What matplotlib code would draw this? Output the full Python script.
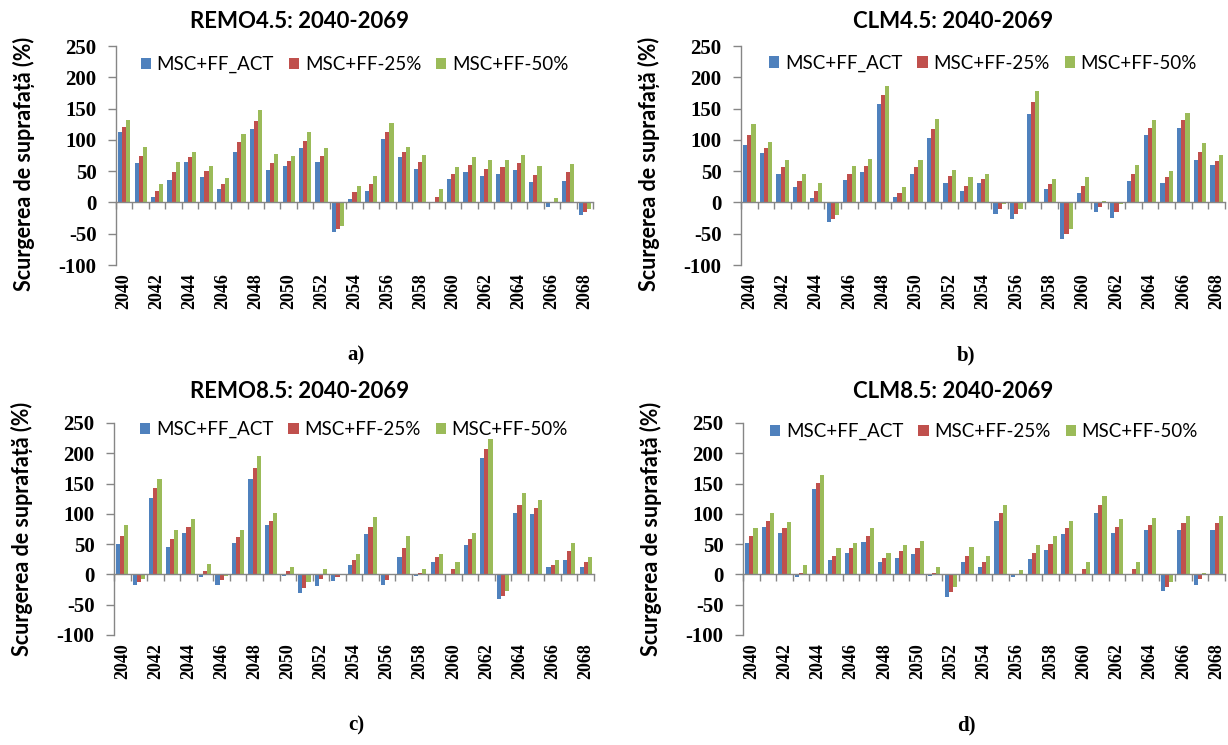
import matplotlib

matplotlib.use("Agg")
import matplotlib.pyplot as plt
import numpy as np

# fonts: Calibri-like sans for titles/legend, Times-like serif for ticks
SANS = ["Lato", "DejaVu Sans"]
SERIF = ["Liberation Serif", "DejaVu Serif"]

years = list(range(2040, 2069))
series_names = ["MSC+FF_ACT", "MSC+FF-25%", "MSC+FF-50%"]
series_colors = ["#4F81BD", "#C0504D", "#9BBB59"]
y_ticks = [-100, -50, 0, 50, 100, 150, 200, 250]

# REMO 4.5
remo45_act = [112, 63, 8, 36, 65, 41, 22, 81, 118, 52, 59, 87, 65, -47, 6,
              19, 102, 72, 54, 0, 38, 48, 43, 46, 52, 32, -7, 35, -20]
remo45_ff25 = [120, 74, 18, 49, 73, 51, 29, 96, 130, 63, 67, 98, 75, -43, 16,
               29, 113, 80, 64, 9, 46, 60, 54, 56, 63, 44, 0, 48, -16]
remo45_ff50 = [131, 88, 29, 65, 81, 59, 39, 110, 147, 77, 75, 112, 87, -37, 27,
               43, 127, 89, 76, 21, 56, 72, 68, 68, 76, 59, 7, 62, -11]

# CLM 4.5
clm45_act = [91, 79, 46, 24, 7, -32, 36, 48, 158, 9, 46, 103, 31, 18,
             31, -19, -27, 141, 21, -59, 15, -15, -25, 34, 107, 31, 119, 68, 60]
clm45_ff25 = [107, 87, 56, 34, 18, -26, 46, 58, 171, 15, 56, 117, 42, 27,
              38, -10, -19, 160, 30, -51, 27, -7, -15, 46, 119, 40, 131, 81, 66]
clm45_ff50 = [125, 97, 68, 46, 31, -20, 58, 70, 186, 24, 68, 134, 52, 40,
              46, -2, -10, 178, 38, -43, 40, 3, -3, 60, 131, 50, 143, 95, 76]

# REMO 8.5
remo85_act = [50, -17, 127, 46, 68, -4, -17, 52, 158, 81, -3, -31, -19, -11, 15,
              67, -17, 28, -3, 20, 0, 48, 193, -41, 101, 99, 12, 24, 13]
remo85_ff25 = [64, -13, 142, 58, 79, 5, -10, 61, 175, 89, 5, -23, -7, -4, 24,
               79, -9, 44, 3, 28, 9, 58, 207, -35, 115, 109, 15, 38, 20]
remo85_ff50 = [81, -7, 158, 73, 91, 18, -3, 73, 195, 101, 12, -13, 9, 0, 34,
               95, 0, 64, 9, 34, 20, 68, 223, -27, 134, 123, 24, 52, 28]

# CLM 8.5
clm85_act = [52, 79, 68, -4, 141, 24, 36, 54, 20, 27, 34, -3, -37, 21,
             13, 88, -4, 26, 40, 66, 0, 101, 68, 0, 74, -27, 74, -17, 74]
clm85_ff25 = [63, 88, 76, 3, 151, 31, 44, 64, 27, 38, 44, 3, -29, 31,
              21, 101, 0, 36, 50, 76, 9, 115, 79, 9, 82, -20, 85, -7, 85]
clm85_ff50 = [76, 101, 87, 15, 164, 44, 52, 76, 36, 48, 56, 12, -20, 46,
              31, 115, 8, 48, 64, 88, 20, 129, 91, 20, 93, -13, 97, 3, 97]

W, H = 1228, 745
AXIS_GREY = "#868686"


def px_rect(left, top, right, bottom):
    """pixel box -> figure fraction [l, b, w, h]"""
    return [left / W, 1 - bottom / H, (right - left) / W, (bottom - top) / H]


def draw_panel(fig, rect, series, title, title_xy, tag, tag_xy, legend_y, ylabel_y):
    ax = fig.add_axes(rect)
    x = np.arange(len(years))
    bw = 0.25
    for k, (vals, name, col) in enumerate(zip(series, series_names, series_colors)):
        ax.bar(x + (k - 1) * bw, vals, width=bw, color=col, label=name, linewidth=0)

    ax.set_xlim(-0.5, len(years) - 0.5)
    ax.set_ylim(-100, 250)

    # y axis
    ax.set_yticks(y_ticks, labels=[str(t) for t in y_ticks],
                  fontsize=15, fontweight="bold", family=SERIF)
    ax.tick_params(axis="y", direction="out", length=6, width=1, color=AXIS_GREY, pad=8)

    # category axis crosses at zero, ticks between categories
    ax.spines["bottom"].set_position(("data", 0))
    ax.set_xticks(np.arange(-0.5, len(years), 1.0), labels=[])
    ax.tick_params(axis="x", direction="out", length=5, width=1, color=AXIS_GREY)
    for side in ("top", "right"):
        ax.spines[side].set_visible(False)
    for side in ("left", "bottom"):
        ax.spines[side].set_color(AXIS_GREY)
        ax.spines[side].set_linewidth(1)

    # year labels sit under the plot area ("low" position)
    sec = ax.secondary_xaxis(0.0)
    sec.set_xticks(x[::2], labels=[str(y) for y in years[::2]], rotation=90,
                   fontsize=13, fontweight="bold", family=SERIF)
    sec.tick_params(length=0, pad=6)
    sec.spines["bottom"].set_visible(False)

    ax.set_ylabel("Scurgerea de suprafață (%)", fontsize=15.5, fontweight="bold", family=SANS)
    width_px = rect[2] * W
    ax.yaxis.set_label_coords(-81 / width_px, ylabel_y)

    ax.legend(loc="upper center", bbox_to_anchor=(0.5, legend_y), ncol=3, frameon=False,
              prop={"family": SANS, "size": 13.5}, handlelength=0.55, handleheight=0.55,
              handletextpad=0.3, columnspacing=0.8, borderaxespad=0, borderpad=0)

    fig.text(title_xy[0] / W, 1 - title_xy[1] / H, title, ha="center", va="center",
             fontsize=16, fontweight="bold", family=SANS)
    fig.text(tag_xy[0] / W, 1 - tag_xy[1] / H, tag, ha="center", va="center",
             fontsize=15, fontweight="bold", family=SERIF)
    return ax


def main() -> None:
    fig = plt.figure(figsize=(W / 100, H / 100), dpi=100)

    draw_panel(fig, px_rect(116, 46, 593, 265), [remo45_act, remo45_ff25, remo45_ff50],
               "REMO4.5: 2040-2069", (300, 22), "a)", (356, 355), 0.955, 0.46)
    draw_panel(fig, px_rect(741, 46, 1225, 265), [clm45_act, clm45_ff25, clm45_ff50],
               "CLM4.5: 2040-2069", (953, 22), "b)", (966, 355), 0.96, 0.46)
    draw_panel(fig, px_rect(114, 423, 594, 635), [remo85_act, remo85_ff25, remo85_ff50],
               "REMO8.5: 2040-2069", (300, 392), "c)", (356, 725), 1.01, 0.5)
    draw_panel(fig, px_rect(743, 423, 1225, 635), [clm85_act, clm85_ff25, clm85_ff50],
               "CLM8.5: 2040-2069", (953, 392), "d)", (966, 725), 1.0, 0.5)

    fig.savefig("out.png", dpi=100)


if __name__ == "__main__":
    main()
